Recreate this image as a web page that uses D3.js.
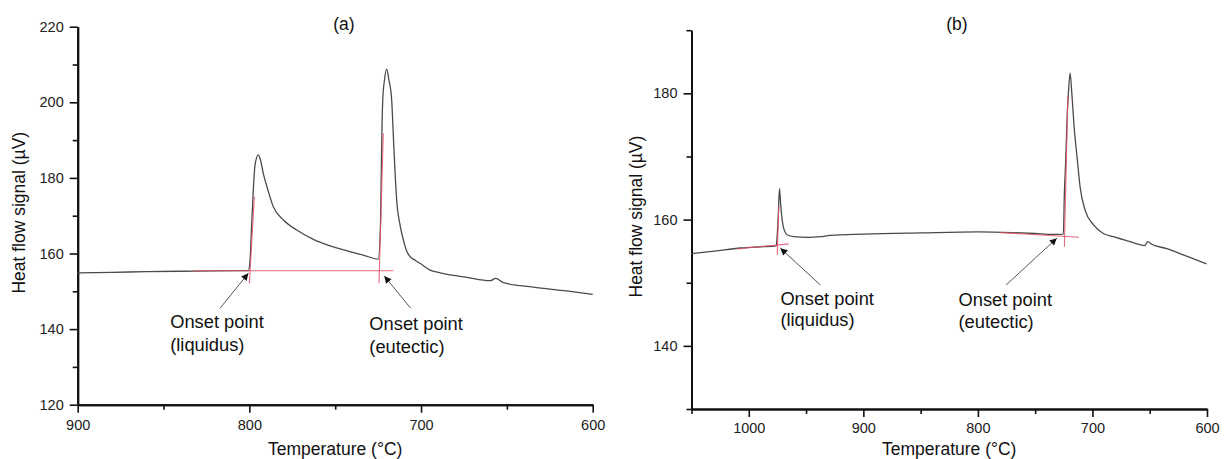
<!DOCTYPE html>
<html>
<head>
<meta charset="utf-8">
<script src="https://cdn.jsdelivr.net/npm/d3@7"></script>
<style>
  html, body { margin: 0; padding: 0; background: #fff; }
  svg { display: block; font-family: "Liberation Sans", Arial, sans-serif; }
</style>
</head>
<body>
<svg id="chart" width="1226" height="459"></svg>
<script>
// ---------- Panel (a) data ----------
const tempA = [900, 880, 860, 840, 820, 805, 800.6, 799.6, 798.8, 797.7, 796.7, 794.8, 793.5, 791.9, 789, 786.1, 780, 772.4, 763, 753, 743, 733.6, 724.9,
  723.6, 723.2, 722.8, 722.3, 721.3, 720.0, 718.7, 717.1, 716.2, 715.3, 714.2, 712.2, 710.3, 708.3, 706.4, 703, 700.6, 694.8, 688.9, 673.4, 659.8, 656.5, 652.1, 634.6, 615.2, 600];
const signalA = [154.9, 155.0, 155.2, 155.3, 155.4, 155.45, 155.45, 158.3, 166.2, 176.8, 183.4, 186.1, 184.7, 181.2, 176.5, 172.4, 168.8, 166.2, 163.8, 162.0, 160.7, 159.6, 158.5,
  168, 180, 192, 200.6, 205.9, 208.8, 205.9, 200.6, 191.9, 183, 174.2, 167.5, 163.6, 160.6, 159.2, 158.1, 157.4, 155.6, 154.9, 153.7, 152.8, 153.4, 152.3, 151.1, 150.1, 149.2];
// tangent construction lines (red) : [temp, signal] pairs
const tangentsA = [
  [[832.8, 155.45], [716.2, 155.45]],
  [[800.0, 152.1], [797.1, 175.0]],
  [[724.5, 152.1], [722.0, 191.8]]
];
// ---------- Panel (b) data ----------
const tempB = [1050, 1030, 1007, 990, 976, 975.2, 974.4, 973.2, 972.2, 971.5, 969.5, 966.5, 960.8, 949, 937.5, 928.8, 900, 850, 800, 770, 750, 735, 725.4,
  724.5, 723.3, 722.4, 721.0, 719.5, 718.0, 716.0, 713.2, 710.8, 706.4, 699.2, 690.5, 681.8, 667.2, 654.1, 651.8, 648.3, 635.2, 617.8, 600.4];
const signalB = [154.6, 155.0, 155.5, 155.7, 155.85, 157.5, 160.0, 164.9, 162.5, 161.0, 158.6, 157.6, 157.3, 157.2, 157.3, 157.5, 157.7, 157.9, 158.05, 157.95, 157.8, 157.65, 157.7,
  164.2, 169.5, 174.7, 180.0, 183.2, 180.0, 174.7, 169.5, 165.2, 161.5, 159.2, 157.8, 157.3, 156.5, 155.9, 156.5, 156.1, 155.4, 154.2, 153.0];
const tangentsB = [
  [[1010.1, 155.36], [965.1, 156.15]],
  [[975.2, 154.4], [973.8, 162.1]],
  [[780.6, 157.94], [711.7, 157.2]],
  [[724.5, 155.7], [721.5, 179.5]]
];
// ---------- ticks ----------
const xMajorA = [900, 800, 700, 600];
const xMinorA = [850, 750, 650];
const yMajorA = [120, 140, 160, 180, 200, 220];
const yMinorA = [130, 150, 170, 190, 210];
const xMajorB = [1000, 900, 800, 700, 600];
const xMinorB = [1050, 950, 850, 750, 650];
const yMajorB = [140, 160, 180];
const yMinorB = [130, 150, 170, 190];
// ---------- annotations ----------
const notesA = [
  { tip: [800.6, 154.76], tail: [817.1, 145.5], at: [846.1, 141.96, 135.98], lines: ["Onset point", "(liquidus)"] },
  { tip: [721.4, 154.05], tail: [706.0, 145.5], at: [730.1, 141.35, 135.34], lines: ["Onset point", "(eutectic)"] }
];
const notesB = [
  { tip: [972.4, 155.47], tail: [937.5, 149.65], at: [972.4, 147.54, 144.1], lines: ["Onset point", "(liquidus)"] },
  { tip: [731.1, 157.05], tail: [775.3, 149.65], at: [816.9, 147.39, 143.84], lines: ["Onset point", "(eutectic)"] }
];

const svg = d3.select("#chart");
const defs = svg.append("defs");
defs.append("marker").attr("id", "arrow").attr("viewBox", "0 0 10 10")
  .attr("refX", 10).attr("refY", 5).attr("markerWidth", 12).attr("markerHeight", 7)
  .attr("markerUnits", "userSpaceOnUse").attr("orient", "auto")
  .append("path").attr("d", "M0,0 L10,5 L0,10 Z").attr("fill", "#111");

function panel(cfg) {
  const x = d3.scaleLinear().domain(cfg.xDomain).range([cfg.left, cfg.right]);
  const y = d3.scaleLinear().domain(cfg.yDomain).range([cfg.bottom, cfg.top]);
  const g = svg.append("g");

  const axStyle = sel => {
    sel.select(".domain").attr("stroke", "#111").attr("stroke-width", 2);
    sel.selectAll(".tick line").attr("stroke", "#111").attr("stroke-width", 1.6);
    sel.selectAll(".tick text").attr("fill", "#222").style("font-size", "14.5px")
      .style("font-family", '"Liberation Sans", Arial, sans-serif');
  };
  g.append("g").attr("transform", `translate(0,${cfg.bottom})`)
    .call(d3.axisBottom(x).tickValues(cfg.xMinor).tickSize(5).tickSizeOuter(0).tickFormat(""))
    .call(axStyle);
  g.append("g").attr("transform", `translate(0,${cfg.bottom})`)
    .call(d3.axisBottom(x).tickValues(cfg.xMajor).tickSize(8).tickSizeOuter(0).tickPadding(cfg.xPad).tickFormat(d3.format("d")))
    .call(axStyle);
  g.append("g").attr("transform", `translate(${cfg.left},0)`)
    .call(d3.axisLeft(y).tickValues(cfg.yMinor).tickSize(5).tickSizeOuter(0).tickFormat(""))
    .call(axStyle);
  g.append("g").attr("transform", `translate(${cfg.left},0)`)
    .call(d3.axisLeft(y).tickValues(cfg.yMajor).tickSize(8).tickSizeOuter(0).tickPadding(6).tickFormat(d3.format("d")))
    .call(axStyle);

  g.append("text").attr("x", cfg.titleX).attr("y", 24).attr("dy", "0.35em")
    .attr("text-anchor", "middle").style("font-size", "17.5px").attr("fill", "#111").text(cfg.title);
  g.append("text").attr("x", (cfg.left + cfg.right) / 2).attr("y", cfg.xTitleY).attr("dy", "0.35em")
    .attr("text-anchor", "middle").style("font-size", "17.5px").attr("fill", "#111").text("Temperature (°C)");
  g.append("text").attr("transform", `translate(${cfg.yTitleX},${(cfg.top + cfg.bottom) / 2 - 3}) rotate(-90)`)
    .attr("dy", "0.35em").attr("text-anchor", "middle").style("font-size", "17.5px").attr("fill", "#111")
    .text("Heat flow signal (µV)");

  const pts = cfg.temps.map((t, i) => [t, cfg.signals[i]]);
  const line = d3.line().x(d => x(d[0])).y(d => y(d[1])).curve(d3.curveMonotoneX);
  g.append("path").datum(pts).attr("d", line).attr("fill", "none")
    .attr("stroke", "#4a4a4a").attr("stroke-width", 1.3).attr("stroke-linejoin", "round");

  const straight = d3.line().x(d => x(d[0])).y(d => y(d[1]));
  g.selectAll(".tan").data(cfg.tangents).join("path").attr("class", "tan")
    .attr("d", straight).attr("fill", "none").attr("stroke", "#e3506a")
    .attr("stroke-width", 1.1).attr("stroke-opacity", 0.85);

  cfg.notes.forEach(n => {
    g.append("line").attr("x1", x(n.tail[0])).attr("y1", y(n.tail[1]))
      .attr("x2", x(n.tip[0])).attr("y2", y(n.tip[1]))
      .attr("stroke", "#555").attr("stroke-width", 1).attr("marker-end", "url(#arrow)");
    n.lines.forEach((s, i) => {
      g.append("text").attr("x", x(n.at[0])).attr("y", y(n.at[i + 1])).attr("dy", "0.35em")
        .style("font-size", "18.3px").attr("fill", "#111").text(s);
    });
  });
}

panel({
  xDomain: [900, 600], yDomain: [120, 220],
  left: 77.7, right: 592.7, top: 26.7, bottom: 404.7,
  xMajor: xMajorA, xMinor: xMinorA, yMajor: yMajorA, yMinor: yMinorA, xPad: 7,
  title: "(a)", titleX: 344, xTitleY: 449, yTitleX: 18.5,
  temps: tempA, signals: signalA, tangents: tangentsA, notes: notesA
});
panel({
  xDomain: [1050, 600], yDomain: [130, 190],
  left: 691.5, right: 1207, top: 30.2, bottom: 409,
  xMajor: xMajorB, xMinor: xMinorB, yMajor: yMajorB, yMinor: yMinorB, xPad: 6,
  title: "(b)", titleX: 957, xTitleY: 448.5, yTitleX: 635.5,
  temps: tempB, signals: signalB, tangents: tangentsB, notes: notesB
});
</script>
</body>
</html>
